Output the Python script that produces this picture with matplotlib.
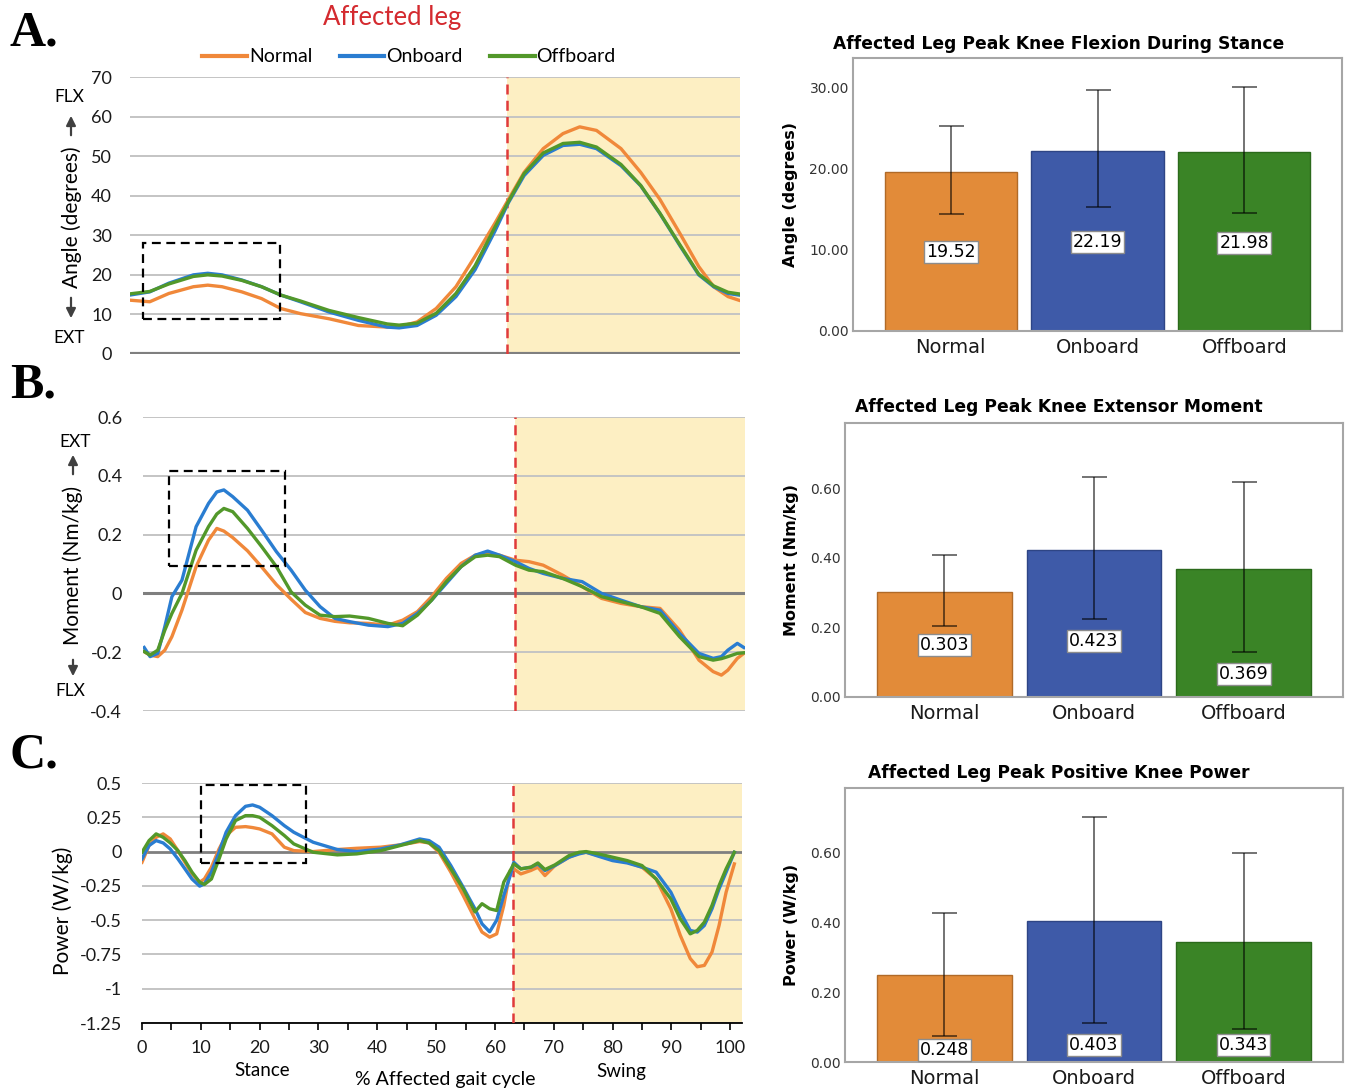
import matplotlib
matplotlib.use('Agg')
import matplotlib.pyplot as plt
from matplotlib.patches import Rectangle
import numpy as np

# ---------------- data ----------------
series_names = ['Normal', 'Onboard', 'Offboard']
stance_end = 63

# Panel A: knee angle (deg)
xa = [0, 3.3, 6.5, 10.6, 13, 15.4, 18.7, 22, 25.2, 28.5, 33.3, 38.2, 43, 45, 48, 51.2, 54.5,
      57.7, 61, 63.3, 65.9, 69.1, 72.4, 75.2, 78, 82.1, 85.4, 88.6, 91.9, 95.1, 97.6, 100, 101.8]
angle_normal = [13.6, 13.2, 15.3, 17.0, 17.4, 17.0, 15.7, 14.0, 11.5, 10.2, 8.9, 7.2, 6.8, 6.9, 8.1,
                11.5, 17.0, 24.7, 33.0, 39.1, 45.9, 51.9, 55.7, 57.4, 56.5, 51.9, 45.9, 39.1, 30.6,
                22.1, 17.0, 14.5, 13.6]
angle_onboard = [14.9, 15.7, 17.9, 20.0, 20.4, 20.0, 18.7, 17.0, 14.9, 13.2, 10.6, 8.5, 6.8, 6.6, 7.2,
                 9.8, 14.5, 21.3, 31.0, 38.3, 45.1, 50.2, 52.7, 53.0, 51.9, 47.6, 42.5, 35.5, 27.5,
                 20.0, 17.0, 15.3, 14.9]
angle_offboard = [15.2, 15.8, 17.7, 19.6, 20.0, 19.7, 18.6, 17.0, 14.9, 13.4, 11.0, 9.2, 7.6, 7.3, 7.8,
                  10.3, 15.3, 22.3, 32.0, 38.6, 45.6, 50.8, 53.2, 53.5, 52.3, 47.9, 42.6, 35.6, 27.7,
                  20.2, 17.2, 15.6, 15.2]

# Panel B: knee moment (Nm/kg)
xb = [0.2, 1.2, 2.5, 3.7, 4.9, 6.6, 9.0, 11.1, 12.5, 13.7, 15.2, 17.7, 20.1, 22.6, 25.1, 27.5, 30,
      32.5, 35, 38.2, 41.5, 44, 46.5, 48.9, 51.4, 53.9, 56.3, 58.4, 60.4, 63.1, 65.4, 67.8, 71.1,
      74.4, 77.7, 81, 84.3, 87.6, 90.9, 94.2, 96.6, 98.0, 99.1, 100.7, 101.8]
moment_normal = [-0.198, -0.21, -0.215, -0.193, -0.147, -0.057, 0.091, 0.181, 0.221, 0.212, 0.19,
                 0.145, 0.09, 0.03, -0.02, -0.065, -0.085, -0.095, -0.1, -0.102, -0.108, -0.091,
                 -0.062, -0.011, 0.051, 0.102, 0.130, 0.138, 0.130, 0.113, 0.108, 0.096, 0.062,
                 0.023, -0.017, -0.034, -0.045, -0.051, -0.125, -0.227, -0.266, -0.278, -0.261,
                 -0.221, -0.204]
moment_onboard = [-0.184, -0.215, -0.204, -0.113, -0.011, 0.045, 0.227, 0.306, 0.345, 0.352, 0.329,
                  0.283, 0.215, 0.142, 0.079, 0.011, -0.045, -0.085, -0.096, -0.108, -0.113, -0.102,
                  -0.068, -0.023, 0.034, 0.091, 0.130, 0.144, 0.130, 0.108, 0.085, 0.068, 0.051,
                  0.040, 0.0, -0.023, -0.045, -0.057, -0.136, -0.204, -0.221, -0.215, -0.193,
                  -0.170, -0.184]
moment_offboard = [-0.198, -0.21, -0.193, -0.125, -0.068, 0.0, 0.147, 0.227, 0.270, 0.289, 0.278,
                   0.221, 0.159, 0.091, 0.005, -0.040, -0.074, -0.079, -0.077, -0.085, -0.102,
                   -0.110, -0.074, -0.023, 0.040, 0.091, 0.125, 0.130, 0.125, 0.096, 0.079, 0.074,
                   0.051, 0.023, -0.011, -0.028, -0.045, -0.068, -0.147, -0.215, -0.227, -0.222,
                   -0.215, -0.204, -0.202]

# Panel C: knee power (W/kg)
xc = [0, 1.2, 2.4, 3.6, 4.8, 6.1, 7.3, 8.5, 9.8, 10.6, 11.8, 13.1, 14.3, 15.9, 17.6, 18.8, 20, 22.1,
      24.2, 25.8, 29.1, 33.2, 36.5, 40.6, 43.9, 47.2, 48.8, 50.5, 52.5, 54.6, 56.6, 57.8, 59.1, 60.3,
      61.5, 62.6, 63.2, 64.4, 66.1, 67.3, 68.5, 70.2, 72.6, 74.3, 75.5, 77.6, 80, 82.5, 85, 87.4,
      89.9, 91.5, 93.2, 94.4, 95.6, 96.9, 98.1, 99.3, 100.7]
power_normal = [-0.078, 0.044, 0.104, 0.129, 0.092, 0.007, -0.078, -0.163, -0.223, -0.2, -0.114,
                0.019, 0.117, 0.177, 0.182, 0.175, 0.165, 0.129, 0.032, 0.007, 0.0, 0.015, 0.024,
                0.032, 0.049, 0.073, 0.063, -0.005, -0.15, -0.32, -0.49, -0.587, -0.624, -0.6,
                -0.393, -0.138, -0.126, -0.163, -0.138, -0.114, -0.175, -0.102, -0.041, -0.012,
                -0.005, -0.029, -0.053, -0.078, -0.114, -0.2, -0.417, -0.61, -0.78, -0.84, -0.83,
                -0.733, -0.539, -0.296, -0.09]
power_onboard = [-0.053, 0.044, 0.080, 0.063, 0.019, -0.053, -0.126, -0.2, -0.252, -0.236, -0.15,
                 -0.005, 0.141, 0.262, 0.330, 0.34, 0.323, 0.262, 0.189, 0.141, 0.068, 0.015, 0.0,
                 0.019, 0.049, 0.092, 0.080, 0.032, -0.102, -0.26, -0.417, -0.527, -0.585, -0.5,
                 -0.32, -0.175, -0.078, -0.126, -0.114, -0.09, -0.138, -0.102, -0.041, -0.017,
                 -0.005, -0.034, -0.066, -0.083, -0.114, -0.15, -0.296, -0.44, -0.575, -0.587,
                 -0.539, -0.417, -0.272, -0.15, -0.005]
power_offboard = [-0.005, 0.080, 0.129, 0.104, 0.063, 0.007, -0.066, -0.15, -0.223, -0.24, -0.2,
                  -0.053, 0.092, 0.226, 0.262, 0.262, 0.250, 0.189, 0.117, 0.056, -0.005, -0.024,
                  -0.017, 0.007, 0.044, 0.080, 0.063, 0.007, -0.126, -0.272, -0.44, -0.38, -0.417,
                  -0.43, -0.223, -0.138, -0.09, -0.126, -0.114, -0.083, -0.131, -0.097, -0.029,
                  -0.005, 0.0, -0.017, -0.041, -0.066, -0.102, -0.2, -0.345, -0.49, -0.6, -0.575,
                  -0.515, -0.393, -0.248, -0.126, -0.005]

# Ticks
angle_ticks = [0, 10, 20, 30, 40, 50, 60, 70]
moment_ticks = [-0.4, -0.2, 0, 0.2, 0.4, 0.6]
moment_ticklabels = ['-0.4', '-0.2', '0', '0.2', '0.4', '0.6']
power_ticks = [-1.25, -1, -0.75, -0.5, -0.25, 0, 0.25, 0.5]
power_ticklabels = ['-1.25', '-1', '-0.75', '-0.5', '-0.25', '0', '0.25', '0.5']
gait_ticks = [0, 10, 20, 30, 40, 50, 60, 70, 80, 90, 100]

# Bar charts
flex_mean = [19.52, 22.19, 21.98]
flex_lo = [14.37, 15.31, 14.57]
flex_hi = [25.18, 29.63, 30.0]
ext_mean = [0.303, 0.423, 0.369]
ext_lo = [0.204, 0.223, 0.129]
ext_hi = [0.409, 0.634, 0.618]
pow_mean = [0.248, 0.403, 0.343]
pow_lo = [0.073, 0.111, 0.094]
pow_hi = [0.425, 0.700, 0.597]

# ---------------- style ----------------
W, H = 1346, 1091
plt.rcParams['font.family'] = ['Lato', 'DejaVu Sans']
line_colors = ['#F0883A', '#2A7DD1', '#52982A']
bar_colors = ['#E28B39', '#3E5AA8', '#3A8426']
bar_edges = ['#B06A28', '#2E4585', '#2B6A1B']
grid_c = '#C4C4C4'
shade_c = '#FDEFC3'
red_c = '#E03A3A'

fig = plt.figure(figsize=(W / 100, H / 100), dpi=100)


def rect(l, t, r, b):
    return [l / W, 1 - b / H, (r - l) / W, (b - t) / H]


def fy(py):
    return 1 - py / H


def line_panel(box, x, ys, ylim, ticks, ticklabels, pad, zero_lw, dbox):
    ax = fig.add_axes(rect(*box))
    ax.set_xlim(0, 102)
    ax.set_ylim(*ylim)
    ax.axvspan(stance_end, 102, color=shade_c, zorder=0, lw=0)
    for t in ticks:
        if t != 0:
            ax.axhline(t, color=grid_c, lw=1.4, zorder=1)
    ax.axhline(0, color='#7F7F7F', lw=zero_lw, zorder=2)
    ax.axvline(stance_end, color=red_c, lw=1.8, ls=(0, (4, 2.5)), zorder=3)
    handles = []
    for y, c, n in zip(ys, line_colors, series_names):
        h, = ax.plot(x, y, color=c, lw=2.4, zorder=4, label=n, solid_joinstyle='round')
        handles.append(h)
    (x0, x1, y0, y1) = dbox
    ax.add_patch(Rectangle((x0, y0), x1 - x0, y1 - y0, fill=False, ec='black', lw=1.6,
                           ls=(0, (4, 2.5)), zorder=5, clip_on=False))
    for s in ax.spines.values():
        s.set_visible(False)
    ax.set_yticks(ticks)
    ax.set_yticklabels(ticklabels)
    ax.tick_params(axis='y', length=0, pad=pad, labelsize=13, labelcolor='#1a1a1a')
    ax.set_xticks([])
    return ax, handles


axA, handles = line_panel((130, 77, 740, 354), xa, [angle_normal, angle_onboard, angle_offboard],
                          (0, 70), angle_ticks, [str(t) for t in angle_ticks], 13, 3.0,
                          (2.2, 25.1, 8.8, 28.0))
axB, _ = line_panel((143, 417, 745, 711), xb, [moment_normal, moment_onboard, moment_offboard],
                    (-0.4, 0.6), moment_ticks, moment_ticklabels, 15, 2.2,
                    (4.4, 24.1, 0.092, 0.418))
axC, _ = line_panel((142, 783, 742, 1023), xc, [power_normal, power_onboard, power_offboard],
                    (-1.25, 0.5), power_ticks, power_ticklabels, 14.5, 2.0,
                    (10.0, 27.8, -0.08, 0.489))
axC.spines['bottom'].set_visible(True)
axC.spines['bottom'].set_color('black')
axC.spines['bottom'].set_linewidth(1.3)
axC.set_xticks(gait_ticks)
axC.set_xticks(np.arange(5, 101, 10), minor=True)
axC.set_xticklabels([str(t) for t in gait_ticks])
axC.tick_params(axis='x', which='both', direction='out', length=5, width=1.2, color='black',
                labelsize=13, pad=7, labelcolor='#1a1a1a')

# Titles / legend
fig.text(392 / W, fy(18), 'Affected leg', color='#D42A2F', fontsize=18.5, ha='center', va='center')
fig.legend(handles, series_names, loc='center', bbox_to_anchor=(409 / W, fy(57)), ncol=3,
           frameon=False, fontsize=14, handlelength=2.3, handletextpad=0.1, columnspacing=1.4)
for lh in fig.legends[0].get_lines():
    lh.set_linewidth(3)

for txt, py in [('A.', 34), ('B.', 385), ('C.', 755)]:
    fig.text(10 / W, fy(py), txt, fontsize=36, fontweight='bold', family='Liberation Serif',
             ha='left', va='center')

# Axis labels, left
fig.text(72 / W, fy(217), 'Angle (degrees)', rotation=90, fontsize=15, ha='center', va='center')
fig.text(73 / W, fy(565), 'Moment (Nm/kg)', rotation=90, fontsize=15, ha='center', va='center')
fig.text(63 / W, fy(911), 'Power (W/kg)', rotation=90, fontsize=15, ha='center', va='center')
fig.text(69 / W, fy(97), 'FLX', fontsize=12.5, ha='center', va='center')
fig.text(69 / W, fy(338), 'EXT', fontsize=12.5, ha='center', va='center')
fig.text(75 / W, fy(442), 'EXT', fontsize=12.5, ha='center', va='center')
fig.text(70 / W, fy(691), 'FLX', fontsize=12.5, ha='center', va='center')
arrow_kw = dict(arrowstyle='-|>', color='#404040', lw=1.6, mutation_scale=14)
for (xx, ya, yb) in [(71, 138, 113), (71, 295, 321), (73, 477, 452), (73, 657, 679)]:
    axA.annotate('', xy=(xx, H - yb), xytext=(xx, H - ya), xycoords='figure pixels',
                 textcoords='figure pixels', arrowprops=arrow_kw, annotation_clip=False)

fig.text(262 / W, fy(1071), 'Stance', fontsize=13.5, ha='center', va='center')
fig.text(445 / W, fy(1079), '% Affected gait cycle', fontsize=14, ha='center', va='center')
fig.text(621 / W, fy(1071), 'Swing', fontsize=13.5, ha='center', va='center')


# ---------------- bar panels ----------------
def bar_panel(box, means, lo, hi, ylim, ticks, fmt, label_y, ylabel, title, title_py):
    ax = fig.add_axes(rect(*box))
    xpos = np.arange(len(means))
    m = np.array(means)
    ax.bar(xpos, m, width=0.9, color=bar_colors, edgecolor=bar_edges, lw=1.0, zorder=2)
    ax.errorbar(xpos, m, yerr=[m - np.array(lo), np.array(hi) - m], fmt='none',
                ecolor=(0, 0, 0, 0.55), elinewidth=1.4, capsize=9, capthick=1.4, zorder=3)
    for i, v in enumerate(means):
        ax.text(xpos[i], label_y[i], fmt % v, ha='center', va='center', fontsize=12.5,
                family='DejaVu Sans', zorder=4,
                bbox=dict(boxstyle='square,pad=0.12', fc='white', ec='#8c8c8c', lw=1.0))
    ax.set_xlim(-0.665, 2.665)
    ax.set_ylim(*ylim)
    ax.set_yticks(ticks)
    ax.set_yticklabels(['%.2f' % t for t in ticks], family='DejaVu Sans')
    ax.set_xticks(xpos)
    ax.set_xticklabels(series_names, family='DejaVu Sans')
    ax.tick_params(axis='y', length=0, pad=3, labelsize=10, labelcolor='#333333')
    ax.tick_params(axis='x', length=0, pad=5, labelsize=14, labelcolor='#1a1a1a')
    for s in ax.spines.values():
        s.set_color('#A6A6A6')
        s.set_linewidth(1.5)
    ax.set_ylabel(ylabel, family='DejaVu Sans', fontweight='bold', fontsize=11.5, labelpad=8)
    fig.text(1059 / W, fy(title_py), title, family='DejaVu Sans', fontweight='bold',
             fontsize=12.3, ha='center', va='center')
    return ax


bar_panel((853, 58, 1342, 331), flex_mean, flex_lo, flex_hi, (0, 33.6), [0, 10, 20, 30], '%.2f',
          [9.7, 11.0, 10.8], 'Angle (degrees)', 'Affected Leg Peak Knee Flexion During Stance', 44)
bar_panel((845, 423, 1343, 697), ext_mean, ext_lo, ext_hi, (0, 0.788), [0, 0.2, 0.4, 0.6], '%.3f',
          [0.149, 0.160, 0.066], 'Moment (Nm/kg)', 'Affected Leg Peak Knee Extensor Moment', 407)
bar_panel((845, 788, 1343, 1062), pow_mean, pow_lo, pow_hi, (0, 0.783), [0, 0.2, 0.4, 0.6], '%.3f',
          [0.034, 0.049, 0.049], 'Power (W/kg)', 'Affected Leg Peak Positive Knee Power', 773)

fig.savefig('out.png', dpi=100)
